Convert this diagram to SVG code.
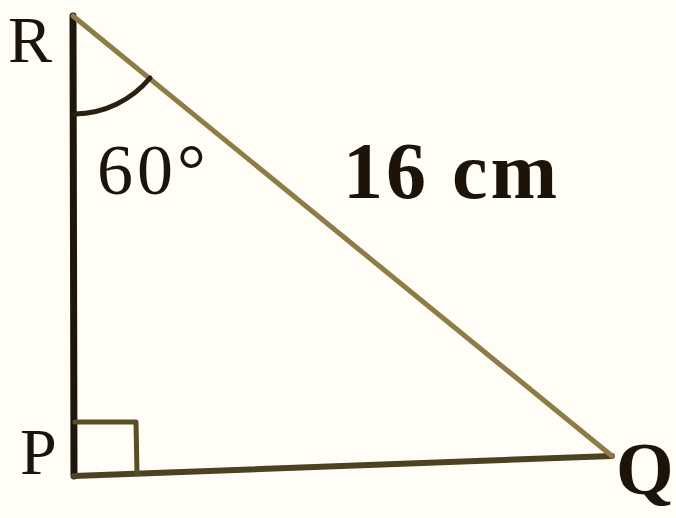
<svg xmlns="http://www.w3.org/2000/svg" width="676" height="518" viewBox="0 0 676 518">
<style>
.lbl{font-family:"Liberation Serif","Times New Roman",serif;fill:#1c1408;}
.side{fill:none;stroke-linecap:round;stroke-linejoin:round;}
</style>
<rect width="676" height="518" fill="#fffdf6"/>
<g id="connectors">
<line id="RP" class="side" x1="73" y1="16" x2="74" y2="476" stroke="#1e160a" stroke-width="7"/>
<line id="PQ" class="side" x1="74" y1="476" x2="612" y2="456" stroke="#4a4220" stroke-width="6"/>
<line id="RQ" class="side" x1="73" y1="16" x2="612" y2="456" stroke="#8c7c46" stroke-width="5"/>
<path id="angleR" class="side" d="M 75 114 A 100 100 0 0 0 150 78" stroke="#2a2010" stroke-width="5"/>
<path id="rightP" class="side" d="M 75 422 L 136 422 L 137 474" stroke="#5a4e26" stroke-width="5"/>
</g>
<g id="R"><text class="lbl" x="8" y="62" font-size="66">R</text></g>
<g id="P"><text class="lbl" x="20" y="474" font-size="66">P</text></g>
<g id="Q"><text class="lbl" x="616" y="494" font-size="74" font-weight="bold">Q</text></g>
<g id="angle-label"><text class="lbl" x="97" y="194" font-size="72" letter-spacing="4">60°</text></g>
<g id="side-label"><text class="lbl" x="343" y="198" font-size="80" font-weight="bold" letter-spacing="3">16 cm</text></g>
</svg>
